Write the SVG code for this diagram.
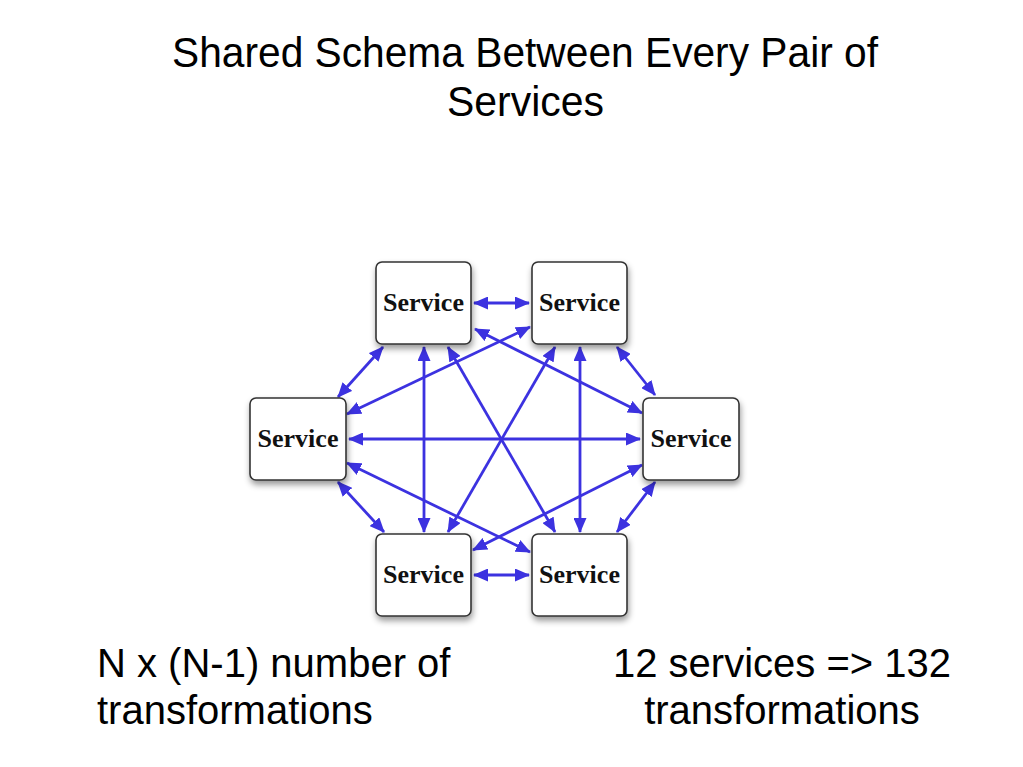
<svg xmlns="http://www.w3.org/2000/svg" width="1023" height="767" viewBox="0 0 1023 767">
<defs>
<style>
.title{font-family:"Liberation Sans",Arial,sans-serif;font-size:43px;fill:#000;text-anchor:middle}
.body{font-family:"Liberation Sans",Arial,sans-serif;font-size:40px;fill:#000}
.box{fill:#fff;stroke:#333;stroke-width:1.6}
.lbl{font-family:"Liberation Serif","Times New Roman",serif;font-weight:bold;font-size:26px;fill:#111;text-anchor:middle}
.conn line{stroke:#3c32e0;stroke-width:2.8;fill:none;marker-start:url(#ah);marker-end:url(#ah)}
</style>
<marker id="ah" viewBox="0 0 15 13" refX="14" refY="6.5" markerWidth="15" markerHeight="13" markerUnits="userSpaceOnUse" orient="auto-start-reverse">
<path d="M0,0 L15,6.5 L0,13 z" fill="#3c32e0"/>
</marker>
<filter id="sh" x="-20%" y="-20%" width="140%" height="150%">
<feDropShadow dx="1" dy="4" stdDeviation="3" flood-color="#000" flood-opacity="0.4"/>
</filter>
</defs>
<rect width="1023" height="767" fill="#fff"/>
<g id="title">
<text class="title" x="525" y="67" textLength="706" lengthAdjust="spacingAndGlyphs">Shared Schema Between Every Pair of</text>
<text class="title" x="525.5" y="116" textLength="157" lengthAdjust="spacingAndGlyphs">Services</text>
</g>
<g id="connectors" class="conn">
<line x1="474" y1="303" x2="529" y2="303"/>
<line x1="474" y1="575" x2="529" y2="575"/>
<line x1="349" y1="439" x2="640" y2="439"/>
<line x1="383" y1="347" x2="338" y2="397"/>
<line x1="617" y1="347" x2="655" y2="395"/>
<line x1="338" y1="482" x2="384" y2="532"/>
<line x1="655" y1="482" x2="617" y2="532"/>
<line x1="424" y1="347" x2="424" y2="532"/>
<line x1="580" y1="347" x2="580" y2="532"/>
<line x1="475" y1="329" x2="642" y2="413"/>
<line x1="530" y1="327" x2="347" y2="414"/>
<line x1="347" y1="463" x2="530" y2="552"/>
<line x1="642" y1="465" x2="473" y2="550"/>
<line x1="448" y1="347" x2="555" y2="532"/>
<line x1="555" y1="347" x2="448" y2="532"/>
</g>
<g id="node-tl"><rect class="box" x="376" y="262" width="95" height="82" rx="6" filter="url(#sh)"/><text class="lbl" x="423.5" y="311">Service</text></g>
<g id="node-tr"><rect class="box" x="532" y="262" width="95" height="82" rx="6" filter="url(#sh)"/><text class="lbl" x="579.5" y="311">Service</text></g>
<g id="node-l"><rect class="box" x="250" y="398" width="96" height="82" rx="6" filter="url(#sh)"/><text class="lbl" x="298" y="447">Service</text></g>
<g id="node-r"><rect class="box" x="643" y="398" width="96" height="82" rx="6" filter="url(#sh)"/><text class="lbl" x="691" y="447">Service</text></g>
<g id="node-bl"><rect class="box" x="376" y="534" width="95" height="82" rx="6" filter="url(#sh)"/><text class="lbl" x="423.5" y="583">Service</text></g>
<g id="node-br"><rect class="box" x="532" y="534" width="95" height="82" rx="6" filter="url(#sh)"/><text class="lbl" x="579.5" y="583">Service</text></g>
<g id="notes">
<text class="body" x="97" y="677">N x (N-1) number of</text>
<text class="body" x="97" y="724">transformations</text>
<text class="body" x="782" y="677" text-anchor="middle">12 services =&gt; 132</text>
<text class="body" x="782" y="724" text-anchor="middle">transformations</text>
</g>
</svg>
